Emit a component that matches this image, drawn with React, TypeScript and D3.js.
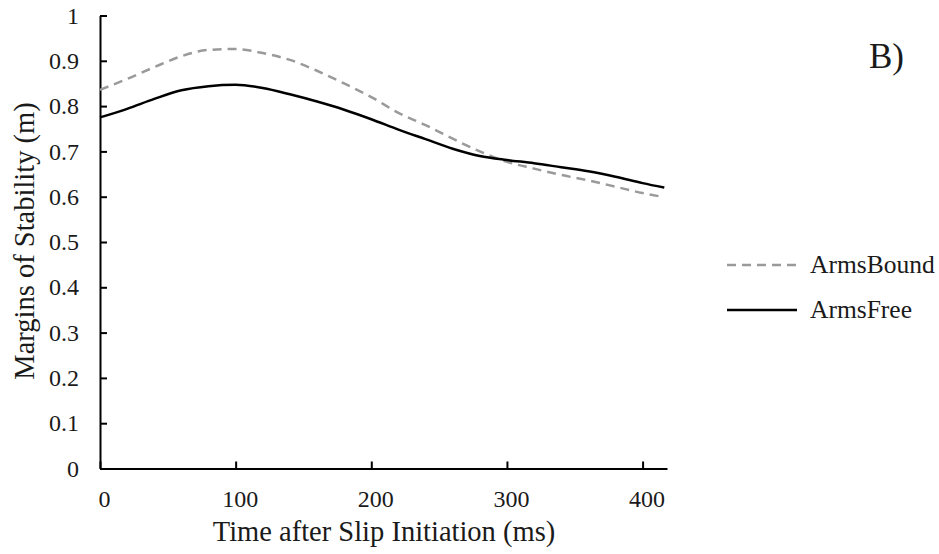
import * as d3 from "d3";
import { useEffect, useRef } from "react";

// time after slip initiation (ms)
const times = [0, 20, 40, 60, 80, 100, 120, 140, 160, 180, 200, 220, 240, 260, 280, 300, 320, 340, 360, 380, 400, 416];
const armsBound = [0.836, 0.86, 0.886, 0.91, 0.924, 0.926, 0.917, 0.902, 0.878, 0.85, 0.82, 0.785, 0.758, 0.728, 0.7, 0.677, 0.662, 0.648, 0.636, 0.622, 0.608, 0.599];
const armsFree = [0.775, 0.794, 0.816, 0.835, 0.844, 0.847, 0.84, 0.826, 0.81, 0.792, 0.771, 0.748, 0.727, 0.706, 0.69, 0.681, 0.674, 0.665, 0.656, 0.644, 0.63, 0.62];
const xTicks = [0, 100, 200, 300, 400];
const yTicks = [0, 0.1, 0.2, 0.3, 0.4, 0.5, 0.6, 0.7, 0.8, 0.9, 1];

const series = [
  { name: "ArmsBound", values: armsBound, color: "#9a9a9a", dash: "9,6" },
  { name: "ArmsFree", values: armsFree, color: "#000", dash: null },
];

const FONT = "Liberation Serif, serif";

const App = () => {
  const ref = useRef<SVGSVGElement>(null);

  useEffect(() => {
    const svg = d3.select(ref.current);
    svg.selectAll("*").remove();

    const x = d3.scaleLinear().domain([0, 418]).range([100, 667]);
    const y = d3.scaleLinear().domain([0, 1]).range([468.5, 15.5]);

    // X axis
    const gx = svg
      .append("g")
      .attr("transform", "translate(0,468.5)")
      .call(d3.axisBottom(x).tickValues(xTicks).tickSizeInner(-7).tickSizeOuter(0).tickPadding(21).tickFormat(d3.format("d")));
    gx.attr("font-family", FONT).attr("font-size", 24);
    gx.select(".domain").attr("stroke", "#000").attr("stroke-width", 2);
    gx.selectAll(".tick line").attr("stroke", "#000").attr("stroke-width", 2);
    gx.selectAll(".tick text").attr("dx", 4).attr("fill", "#1a1a1a");

    // Y axis
    const gy = svg
      .append("g")
      .attr("transform", "translate(100,0)")
      .call(d3.axisLeft(y).tickValues(yTicks).tickSizeInner(-7).tickSizeOuter(0).tickPadding(21).tickFormat((d) => `${+d}`));
    gy.attr("font-family", FONT).attr("font-size", 24);
    gy.select(".domain").attr("stroke", "#000").attr("stroke-width", 2);
    gy.selectAll(".tick line").attr("stroke", "#000").attr("stroke-width", 2);
    gy.selectAll(".tick text").attr("fill", "#1a1a1a");

    // lines
    const line = d3
      .line<number>()
      .x((_, i) => x(times[i]))
      .y((d) => y(d))
      .curve(d3.curveMonotoneX);

    series.forEach((s) => {
      svg
        .append("path")
        .datum(s.values)
        .attr("d", line)
        .attr("fill", "none")
        .attr("stroke", s.color)
        .attr("stroke-width", 2.5)
        .attr("stroke-dasharray", s.dash);
    });

    // legend
    series.forEach((s, i) => {
      const ly = 265 + i * 45;
      svg
        .append("line")
        .attr("x1", 727)
        .attr("x2", 797)
        .attr("y1", ly)
        .attr("y2", ly)
        .attr("stroke", s.color)
        .attr("stroke-width", 2.5)
        .attr("stroke-dasharray", s.dash);
      svg
        .append("text")
        .attr("x", 810)
        .attr("y", ly + 8)
        .attr("fill", "#1a1a1a")
        .attr("font-family", FONT)
        .attr("font-size", 25.5)
        .text(s.name);
    });

    // axis titles
    svg
      .append("text")
      .attr("x", 384)
      .attr("y", 541)
      .attr("text-anchor", "middle")
      .attr("fill", "#1a1a1a")
      .attr("font-family", FONT)
      .attr("font-size", 28.5)
      .text("Time after Slip Initiation (ms)");

    svg
      .append("text")
      .attr("transform", "translate(34,241) rotate(-90)")
      .attr("text-anchor", "middle")
      .attr("fill", "#1a1a1a")
      .attr("font-family", FONT)
      .attr("font-size", 28.5)
      .text("Margins of Stability (m)");

    // panel label
    svg
      .append("text")
      .attr("x", 869)
      .attr("y", 68)
      .attr("fill", "#1a1a1a")
      .attr("font-family", FONT)
      .attr("font-size", 35)
      .text("B)");
  }, []);

  return (
    <svg
      ref={ref}
      width={939}
      height={554}
      style={{ position: "absolute", left: 0, top: 0, background: "#fff" }}
    />
  );
};

export default App;
